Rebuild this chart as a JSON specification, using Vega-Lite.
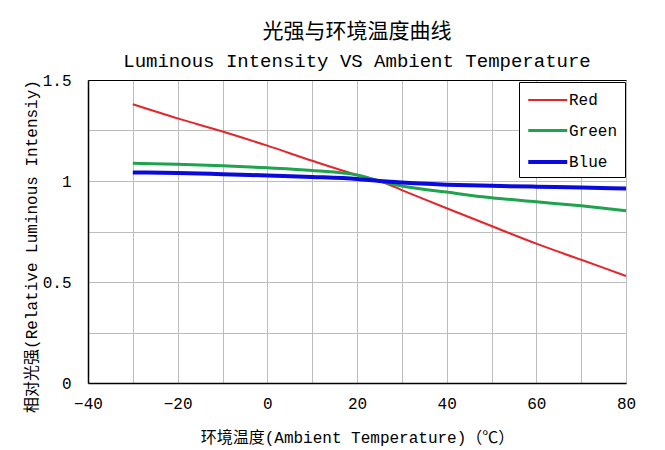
{
  "$schema": "https://vega.github.io/schema/vega-lite/v6.json",
  "autosize": "none",
  "width": 538,
  "height": 303,
  "padding": {"left": 88, "top": 80, "right": 39, "bottom": 67},
  "background": "white",
  "config": {"view": {"stroke": "#a0a0a0", "strokeWidth": 1}},
  "title": {
    "text": "光强与环境温度曲线",
    "subtitle": "Luminous Intensity VS Ambient Temperature",
    "font": "Noto Sans CJK SC",
    "fontSize": 21,
    "fontWeight": "normal",
    "color": "black",
    "subtitleFont": "Liberation Mono",
    "subtitleFontSize": 19,
    "subtitleColor": "black",
    "subtitlePadding": 10,
    "anchor": "middle",
    "frame": "group",
    "offset": 1
  },
  "data": {
    "values": [
      {"series": "Red", "temp": -30, "value": 1.38},
      {"series": "Red", "temp": -20, "value": 1.31},
      {"series": "Red", "temp": -10, "value": 1.245},
      {"series": "Red", "temp": 0, "value": 1.175},
      {"series": "Red", "temp": 10, "value": 1.10},
      {"series": "Red", "temp": 20, "value": 1.03},
      {"series": "Red", "temp": 25, "value": 1.0},
      {"series": "Red", "temp": 30, "value": 0.955},
      {"series": "Red", "temp": 40, "value": 0.865},
      {"series": "Red", "temp": 50, "value": 0.777},
      {"series": "Red", "temp": 60, "value": 0.69},
      {"series": "Red", "temp": 70, "value": 0.61},
      {"series": "Red", "temp": 80, "value": 0.53},
      {"series": "Green", "temp": -30, "value": 1.088},
      {"series": "Green", "temp": -20, "value": 1.083},
      {"series": "Green", "temp": -10, "value": 1.075},
      {"series": "Green", "temp": 0, "value": 1.065},
      {"series": "Green", "temp": 10, "value": 1.052},
      {"series": "Green", "temp": 20, "value": 1.03},
      {"series": "Green", "temp": 25, "value": 1.0},
      {"series": "Green", "temp": 30, "value": 0.975},
      {"series": "Green", "temp": 40, "value": 0.945},
      {"series": "Green", "temp": 50, "value": 0.917},
      {"series": "Green", "temp": 60, "value": 0.897},
      {"series": "Green", "temp": 70, "value": 0.877},
      {"series": "Green", "temp": 80, "value": 0.853},
      {"series": "Blue", "temp": -30, "value": 1.042},
      {"series": "Blue", "temp": -20, "value": 1.04},
      {"series": "Blue", "temp": -10, "value": 1.034},
      {"series": "Blue", "temp": 0, "value": 1.027},
      {"series": "Blue", "temp": 10, "value": 1.02},
      {"series": "Blue", "temp": 20, "value": 1.01},
      {"series": "Blue", "temp": 25, "value": 1.0},
      {"series": "Blue", "temp": 30, "value": 0.992},
      {"series": "Blue", "temp": 40, "value": 0.982},
      {"series": "Blue", "temp": 50, "value": 0.976},
      {"series": "Blue", "temp": 60, "value": 0.972},
      {"series": "Blue", "temp": 70, "value": 0.968},
      {"series": "Blue", "temp": 80, "value": 0.963}
    ]
  },
  "mark": {"type": "line", "interpolate": "monotone"},
  "encoding": {
    "x": {
      "field": "temp",
      "type": "quantitative",
      "scale": {"domain": [-40, 80], "nice": false, "zero": false},
      "axis": {
        "values": [-40, -30, -20, -10, 0, 10, 20, 30, 40, 50, 60, 70, 80],
        "labelExpr": "datum.value % 20 === 0 ? datum.label : ''",
        "grid": true,
        "gridColor": "#bdbdbd",
        "gridWidth": 1,
        "domainColor": "black",
        "domainWidth": 1.5,
        "ticks": false,
        "labelFont": "Liberation Mono",
        "labelFontSize": 16,
        "labelColor": "black",
        "labelPadding": 12,
        "labelFlush": false,
        "labelOverlap": false,
        "title": "环境温度(Ambient Temperature)（℃）",
        "titleFont": "Liberation Mono, Noto Sans CJK SC",
        "titleFontSize": 16,
        "titleFontWeight": "normal",
        "titleColor": "black",
        "titleY": 54,
        "titleBaseline": "middle"
      }
    },
    "y": {
      "field": "value",
      "type": "quantitative",
      "scale": {"domain": [0, 1.5], "nice": false},
      "axis": {
        "values": [0, 0.25, 0.5, 0.75, 1, 1.25, 1.5],
        "format": "~g",
        "labelExpr": "(datum.value * 4) % 2 === 0 ? datum.label : ''",
        "grid": true,
        "gridColor": {"condition": {"test": "datum.value === 1.5", "value": "black"}, "value": "#bdbdbd"},
        "gridWidth": 1,
        "domainColor": "black",
        "domainWidth": 1.5,
        "ticks": false,
        "labelFont": "Liberation Mono",
        "labelFontSize": 16,
        "labelColor": "black",
        "labelPadding": 17,
        "labelFlush": false,
        "labelOverlap": false,
        "title": "相对光强(Relative Luminous Intensiy)",
        "titleFont": "Liberation Mono, Noto Sans CJK SC",
        "titleFontSize": 16,
        "titleFontWeight": "normal",
        "titleColor": "black",
        "titleAngle": -90,
        "titleX": -57,
        "titleY": 166,
        "titleAlign": "center",
        "titleBaseline": "middle"
      }
    },
    "color": {
      "field": "series",
      "type": "nominal",
      "sort": ["Red", "Green", "Blue"],
      "scale": {"domain": ["Red", "Green", "Blue"], "range": ["#e3262b", "#1ea34f", "#0a0adc"]},
      "legend": {
        "orient": "none",
        "legendX": 431,
        "legendY": 2,
        "title": null,
        "fillColor": "white",
        "strokeColor": "black",
        "padding": 7,
        "symbolType": "M-1,0L3,0",
        "symbolSize": 380,
        "symbolStrokeWidth": 3.5,
        "labelFont": "Liberation Mono",
        "labelFontSize": 16,
        "labelColor": "black",
        "labelOffset": 19,
        "rowPadding": 11
      }
    },
    "strokeWidth": {
      "field": "series",
      "type": "ordinal",
      "sort": ["Red", "Green", "Blue"],
      "scale": {"domain": ["Red", "Green", "Blue"], "range": [2, 4, 4]},
      "legend": null
    }
  }
}
